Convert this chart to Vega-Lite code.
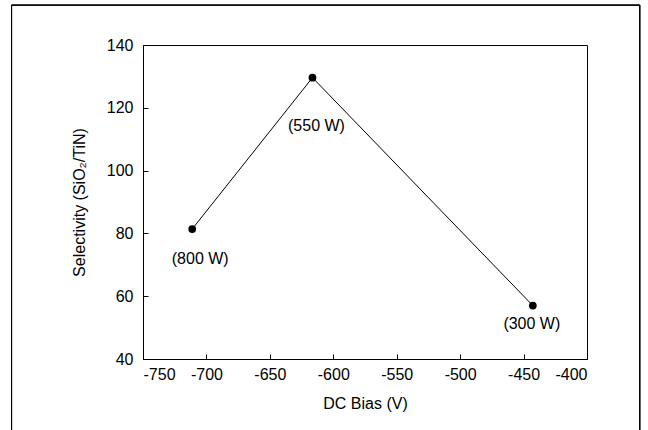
{
  "$schema": "https://vega.github.io/schema/vega-lite/v6.json",
  "autosize": "none",
  "width": 444,
  "height": 314,
  "padding": {"left": 143, "top": 45, "right": 61, "bottom": 71},
  "background": "white",
  "config": {
    "font": "Liberation Sans",
    "view": {"stroke": "black", "strokeWidth": 1},
    "axis": {
      "domain": true,
      "domainColor": "black",
      "tickColor": "black",
      "tickSize": -5,
      "grid": false,
      "labelFont": "Liberation Sans",
      "labelFontSize": 16,
      "labelColor": "black",
      "titleFont": "Liberation Sans",
      "titleFontSize": 16,
      "titleFontWeight": "normal",
      "titleColor": "black",
      "labelExpr": "replace(datum.label, '−', '-')"
    }
  },
  "data": {
    "values": [
      {"bias": -711.2, "sel": 81.4, "power": "(800 W)"},
      {"bias": -616.4, "sel": 129.6, "power": "(550 W)"},
      {"bias": -442.7, "sel": 57.0, "power": "(300 W)"}
    ]
  },
  "layer": [
    {
      "mark": {"type": "line", "color": "black", "strokeWidth": 1},
      "encoding": {
        "x": {"field": "bias", "type": "quantitative", "scale": {"domain": [-750, -400], "nice": false},
          "axis": {"title": "DC Bias (V)", "values": [-750, -700, -650, -600, -550, -500, -450, -400], "labelPadding": 12, "titlePadding": 13}},
        "y": {"field": "sel", "type": "quantitative", "scale": {"domain": [40, 140], "nice": false},
          "axis": {"title": "Selectivity (SiO₂/TiN)", "values": [40, 60, 80, 100, 120, 140], "labelPadding": 15, "titlePadding": 19}}
      }
    },
    {
      "mark": {"type": "point", "filled": true, "color": "black", "size": 60, "opacity": 1},
      "encoding": {
        "x": {"field": "bias", "type": "quantitative"},
        "y": {"field": "sel", "type": "quantitative"}
      }
    },
    {
      "transform": [{"filter": "datum.power == '(800 W)'"}],
      "mark": {"type": "text", "fontSize": 16, "color": "black", "dx": 8, "dy": 30, "font": "Liberation Sans"},
      "encoding": {
        "x": {"field": "bias", "type": "quantitative"},
        "y": {"field": "sel", "type": "quantitative"},
        "text": {"field": "power"}
      }
    },
    {
      "transform": [{"filter": "datum.power == '(550 W)'"}],
      "mark": {"type": "text", "fontSize": 16, "color": "black", "dx": 4, "dy": 48, "font": "Liberation Sans"},
      "encoding": {
        "x": {"field": "bias", "type": "quantitative"},
        "y": {"field": "sel", "type": "quantitative"},
        "text": {"field": "power"}
      }
    },
    {
      "transform": [{"filter": "datum.power == '(300 W)'"}],
      "mark": {"type": "text", "fontSize": 16, "color": "black", "dx": -1, "dy": 18, "font": "Liberation Sans"},
      "encoding": {
        "x": {"field": "bias", "type": "quantitative"},
        "y": {"field": "sel", "type": "quantitative"},
        "text": {"field": "power"}
      }
    },
    {
      "mark": {"type": "rect", "fill": null, "fillOpacity": 0, "stroke": "black", "strokeWidth": 1, "clip": false},
      "encoding": {
        "x": {"datum": -853.6, "type": "quantitative"},
        "x2": {"datum": -358.4},
        "y": {"datum": 152.7, "type": "quantitative"},
        "y2": {"datum": 0}
      }
    }
  ]
}
